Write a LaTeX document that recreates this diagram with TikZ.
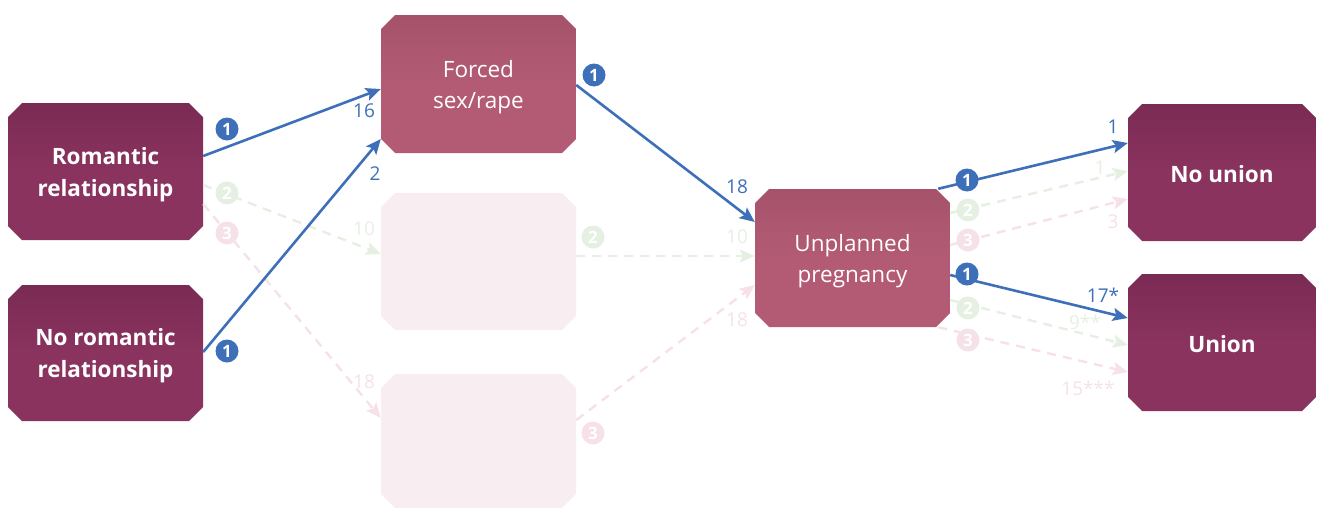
\documentclass[tikz,border=0pt]{standalone}
\usepackage{fontspec}
\setmainfont{Open Sans}
\usetikzlibrary{arrows.meta,calc}
\definecolor{plum}{HTML}{8A335F}
\definecolor{plumtop}{HTML}{7A2B53}
\definecolor{rose}{HTML}{B35B74}
\definecolor{rosetop}{HTML}{A6526B}
\definecolor{faded}{HTML}{F8EDF1}
\definecolor{lblue}{HTML}{3E6FB9}
\definecolor{fgreen}{HTML}{E5F0E3}
\definecolor{fpink}{HTML}{F6E1E8}
\newcommand\lowr{\rule{0pt}{23pt}}
\newcommand\chpath{%
  ([xshift=14pt]path picture bounding box.north west) --
  ([xshift=-14pt]path picture bounding box.north east) --
  ([yshift=-14pt]path picture bounding box.north east) --
  ([yshift=14pt]path picture bounding box.south east) --
  ([xshift=-14pt]path picture bounding box.south east) --
  ([xshift=14pt]path picture bounding box.south west) --
  ([yshift=14pt]path picture bounding box.south west) --
  ([yshift=-14pt]path picture bounding box.north west) -- cycle}
\tikzset{
  boxbase/.style={rectangle, inner sep=0pt, text=white, align=center},
  darkbox/.style={boxbase, minimum width=195pt, minimum height=137pt,
    font=\fontsize{22.5}{32}\selectfont\bfseries,
    path picture={\shade[top color=plumtop, bottom color=plum, middle color=plum] \chpath;}},
  endbox/.style={darkbox, minimum width=188pt},
  rosebox/.style={boxbase, minimum width=195pt, minimum height=137pt,
    font=\fontsize{22.5}{31}\selectfont,
    path picture={\shade[top color=rosetop, bottom color=rose, middle color=rose] \chpath;}},
  fadebox/.style={boxbase, minimum width=195pt, minimum height=137pt,
    path picture={\fill[faded] \chpath;}},
  tip/.style={-{Stealth[length=15pt,width=13pt,inset=3pt]}},
  blueline/.style={draw=lblue, line width=2.6pt, tip},
  greenline/.style={draw=fgreen, line width=2.4pt, dash pattern=on 9pt off 7pt, tip},
  pinkline/.style={draw=fpink, line width=2.4pt, dash pattern=on 9pt off 7pt, tip},
  badge/.style={circle, fill=#1, text=white, minimum size=23pt, inner sep=0pt,
    font=\fontsize{17}{17}\selectfont\bfseries},
  lbl/.style={text=#1, inner sep=0pt, font=\fontsize{19}{19}\selectfont}
}
\begin{document}
\begin{tikzpicture}[x=1pt,y=-1pt]
\useasboundingbox (0,0) rectangle (1317,509);
% boxes
\node[darkbox] (rom) at (105.5,171.5) {\lowr Romantic\\relationship};
\node[darkbox, minimum height=136pt] (nrom) at (105.5,353) {\lowr No romantic\\relationship};
\node[rosebox, minimum height=138pt] (forced) at (478.5,84) {\lowr Forced\\sex/rape};
\node[fadebox] (f2) at (478.5,261.5) {};
\node[fadebox, minimum height=134pt] (f3) at (478.5,441) {};
\node[rosebox, minimum height=138pt] (unp) at (852.5,258) {\lowr Unplanned\\pregnancy};
\node[endbox] (nou) at (1222,172.5) {\rule{0pt}{20pt}No union};
\node[endbox] (uni) at (1222,342.5) {\rule{0pt}{20pt}Union};
% faded dashed connectors
\draw[greenline] (rom.east |- 0,185) -- (f2.west |- 0,254);
\draw[pinkline] (rom.east |- 0,204) -- (f3.west |- 0,418);
\draw[greenline] (f2.east |- 0,256) -- (unp.west |- 0,256);
\draw[pinkline] (f3.east |- 0,420) -- (unp.west |- 0,285);
\draw[greenline] (unp.east |- 0,213) -- (nou.west |- 0,171);
\draw[pinkline] (unp.east |- 0,245) -- (nou.west |- 0,199);
\draw[greenline] (unp.east |- 0,300) -- (uni.west |- 0,345);
\draw[pinkline] ([xshift=-12pt]unp.south east) -- (uni.west |- 0,372);
% blue connectors
\draw[blueline] (rom.east |- 0,156) -- (forced.west |- 0,89);
\draw[blueline] (nrom.east |- 0,352) -- (forced.west |- 0,139);
\draw[blueline] (forced.east |- 0,85) -- (unp.west |- 0,222);
\draw[blueline] ([xshift=-12pt]unp.north east) -- (nou.west |- 0,143);
\draw[blueline] (unp.east |- 0,275) -- (uni.west |- 0,318);
% badges
\node[badge=lblue] (b1) at (227,129) {1};
\node[badge=lblue] (b2) at (227,351) {1};
\node[badge=lblue] (b3) at (594,75) {1};
\node[badge=lblue] (b4) at (967,180) {1};
\node[badge=lblue] (b5) at (967,274) {1};
\node[badge=fgreen] (g1) at (227,193) {2};
\node[badge=fpink] (p1) at (227,233) {3};
\node[badge=fgreen] (g2) at (593,237) {2};
\node[badge=fpink] (p2) at (593,433) {3};
\node[badge=fgreen] (g3) at (968,210) {2};
\node[badge=fpink] (p3) at (968,240) {3};
\node[badge=fgreen] (g4) at (968,308) {2};
\node[badge=fpink] (p4) at (968,340) {3};
% labels
\node[lbl=lblue] (l1) at (364,111) {16};
\node[lbl=lblue] (l2) at (375,174) {2};
\node[lbl=lblue] (l3) at (737,187) {18};
\node[lbl=lblue] (l4) at (1113,127) {1};
\node[lbl=lblue] (l5) at (1103,295) {17*};
\node[lbl=fgreen] (l6) at (364,229) {10};
\node[lbl=fgreen] (l7) at (737,237) {10};
\node[lbl=fgreen] (l8) at (1100,168) {1};
\node[lbl=fgreen] (l9) at (1085,322) {9**};
\node[lbl=fpink] (l10) at (364,382) {18};
\node[lbl=fpink] (l11) at (737,320) {18};
\node[lbl=fpink] (l12) at (1113,222) {3};
\node[lbl=fpink] (l13) at (1088,388) {15***};
\end{tikzpicture}
\end{document}
